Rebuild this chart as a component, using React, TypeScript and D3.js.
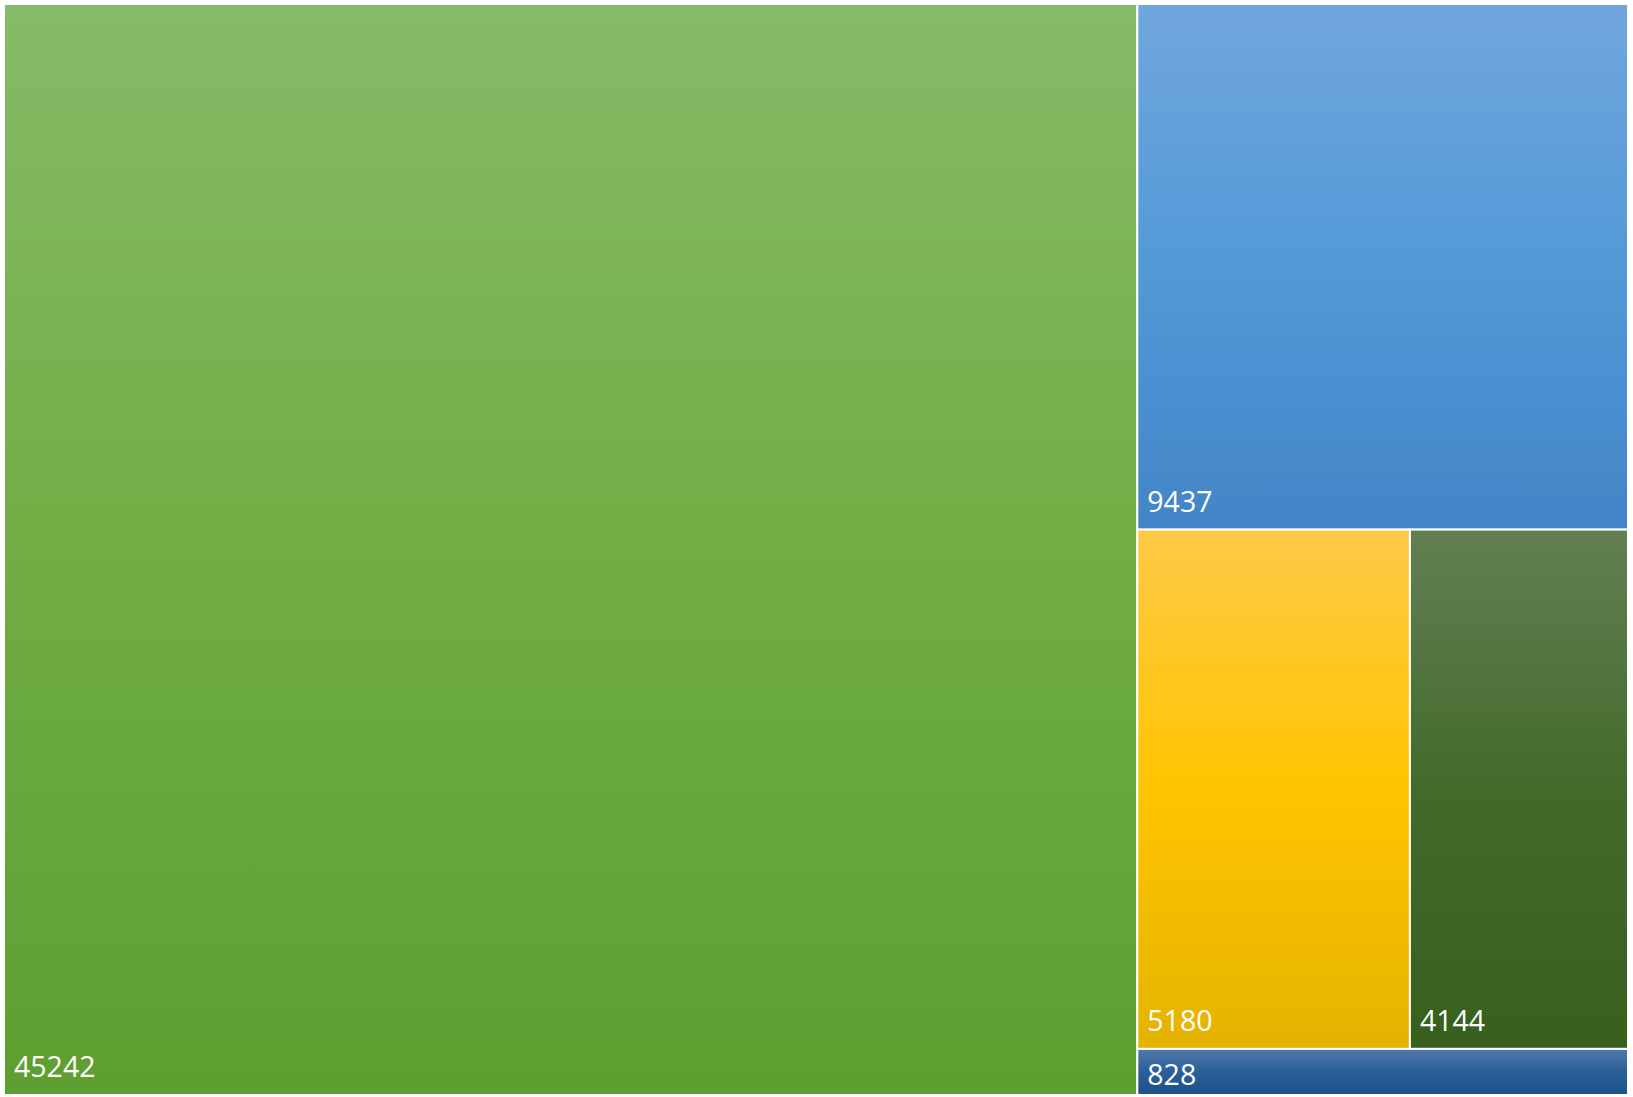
import React from "react";
import * as d3 from "d3";

const categories = ["A", "B", "C", "D", "E"];
const values = [45242, 9437, 5180, 4144, 828];
const topColors = ["#87BA68", "#71A6DD", "#FFC947", "#637F53", "#5079AC"];
const midColors = ["#70AE44", "#5299D8", "#FFC400", "#436A2B", "#2A5F98"];
const bottomColors = ["#5E9E31", "#4285C6", "#E4B300", "#375F1E", "#1A4F88"];

const W = 1633;
const H = 1097;
const X0 = 4, Y0 = 4, X1 = 1628, Y1 = 1095;

export default function App() {
  const data = categories.map((c, i) => ({ name: c, value: values[i], idx: i }));
  const root = d3
    .hierarchy({ name: "root", children: data } as any)
    .sum((d: any) => d.value || 0)
    .sort((a, b) => (b.value || 0) - (a.value || 0));
  d3.treemap().tile(d3.treemapSquarify).size([X1 - X0, Y1 - Y0])(root as any);
  const leaves = root.leaves() as any[];

  return (
    <svg
      width={W}
      height={H}
      style={{ position: "absolute", left: 0, top: 0, display: "block" }}
    >
      <defs>
        {categories.map((c, i) => (
          <linearGradient key={c} id={`g${i}`} x1="0" y1="0" x2="0" y2="1">
            <stop offset="0%" stopColor={topColors[i]} />
            <stop offset="50%" stopColor={midColors[i]} />
            <stop offset="100%" stopColor={bottomColors[i]} />
          </linearGradient>
        ))}
      </defs>
      <rect x={0} y={0} width={W} height={H} fill="#ffffff" />
      <g transform={`translate(${X0},${Y0})`}>
        {leaves.map((l) => {
          const i = l.data.idx;
          const h = l.y1 - l.y0;
          const baseline = h > 60 ? l.y1 - 18 : l.y1 - 10;
          return (
            <g key={l.data.name}>
              <rect
                x={l.x0}
                y={l.y0}
                width={l.x1 - l.x0}
                height={h}
                fill={`url(#g${i})`}
                stroke="#ffffff"
                strokeWidth={2}
              />
              <text
                x={l.x0 + 10}
                y={baseline}
                fill="#ffffff"
                fontFamily="'Open Sans', 'Noto Sans', sans-serif"
                fontSize={28.5}
              >
                {l.data.value}
              </text>
            </g>
          );
        })}
      </g>
    </svg>
  );
}
